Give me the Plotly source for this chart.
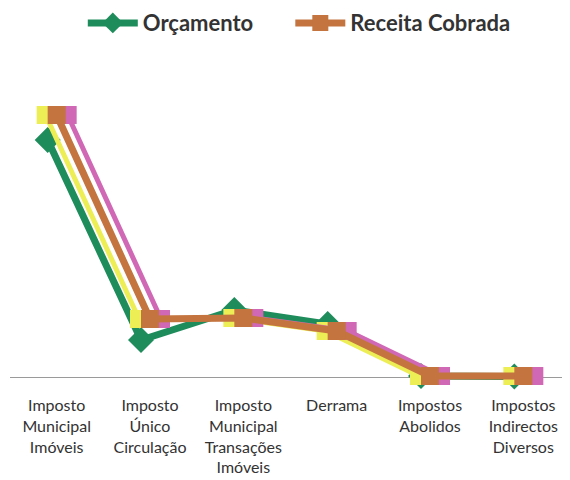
import plotly.graph_objects as go

categories = [
    "Imposto<br>Municipal<br>Imóveis",
    "Imposto<br>Único<br>Circulação",
    "Imposto<br>Municipal<br>Transações<br>Imóveis",
    "Derrama",
    "Impostos<br>Abolidos",
    "Impostos<br>Indirectos<br>Diversos",
]
series_names = ["Orçamento", "Receita Cobrada"]
orcamento = [2370, 370, 670, 530, 10, 5]
receita = [2620, 580, 590, 460, 10, 10]
idx = list(range(len(categories)))

GREEN = "#1F8C5C"
ORANGE = "#C4743F"
YELLOW = "#EDED55"
PINK = "#D068B6"

base_range = [-0.5, 5.5]
px_per_cat = 560 / 6.0


def shifted(px):
    # positive px moves the drawn data to the right
    d = px / px_per_cat
    return [base_range[0] - d, base_range[1] - d]


fig = go.Figure()

# invisible anchor trace on the main (labelled) axis
fig.add_trace(go.Scatter(x=idx, y=receita, mode="lines", line=dict(width=0),
                         showlegend=False, hoverinfo="skip", xaxis="x"))

fig.add_trace(go.Scatter(x=idx, y=orcamento, name=series_names[0] + "\u00a0" * 6,
                         mode="lines+markers",
                         line=dict(color=GREEN, width=7),
                         marker=dict(symbol="diamond", size=20, color=GREEN),
                         cliponaxis=False, xaxis="x2"))
fig.add_trace(go.Scatter(x=idx, y=receita, mode="lines+markers", showlegend=False,
                         line=dict(color=YELLOW, width=5),
                         marker=dict(symbol="square", size=18, color=YELLOW),
                         cliponaxis=False, xaxis="x3"))
fig.add_trace(go.Scatter(x=idx, y=receita, mode="lines+markers", showlegend=False,
                         line=dict(color=PINK, width=5),
                         marker=dict(symbol="square", size=18, color=PINK),
                         cliponaxis=False, xaxis="x4"))
fig.add_trace(go.Scatter(x=idx, y=receita, name=series_names[1], mode="lines+markers",
                         line=dict(color=ORANGE, width=7),
                         marker=dict(symbol="square", size=18, color=ORANGE),
                         cliponaxis=False, xaxis="x5"))

hidden = dict(visible=False, overlaying="x", anchor="y")

fig.update_layout(
    width=562, height=472,
    margin=dict(l=2, r=0, t=42, b=60, autoexpand=False),
    paper_bgcolor="white", plot_bgcolor="white",
    font=dict(family="Lato, sans-serif", color="#333333"),
    showlegend=True,
    legend=dict(orientation="h", xanchor="left", x=0.130, yref="container", y=0.968,
                yanchor="middle", font=dict(size=22, color="#333333", weight="bold"),
                itemwidth=50, traceorder="normal"),
    xaxis=dict(range=base_range, tickvals=idx, ticktext=categories, anchor="free",
               position=(412 - 369) / 370.0, showgrid=False, zeroline=False,
               showline=False, ticks="", ticklabelstandoff=17,
               tickfont=dict(size=16, color="#333333")),
    xaxis2=dict(range=shifted(-9), **hidden),
    xaxis3=dict(range=shifted(-11), **hidden),
    xaxis4=dict(range=shifted(11), **hidden),
    xaxis5=dict(range=base_range, **hidden),
    yaxis=dict(range=[-430, 3270], showgrid=False, showticklabels=False, ticks="",
               zeroline=True, zerolinecolor="#9a9a9a", zerolinewidth=1),
    hovermode=False,
)

fig.write_html("out.html")
